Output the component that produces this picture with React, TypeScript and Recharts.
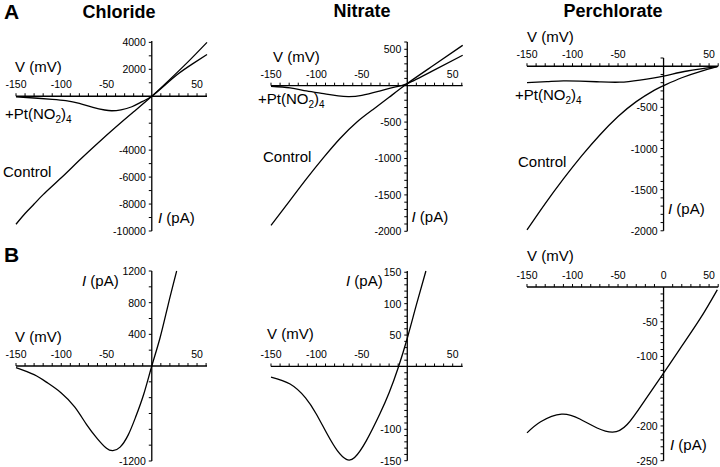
import { ComposedChart, Line, ReferenceLine, Scatter, XAxis, YAxis } from 'recharts';

const FONT = '"Liberation Sans", Arial, Helvetica, sans-serif';

interface IVPoint {
  v: number;
  i: number;
}

// A: whole-cell I-V curves (V in mV, I in pA), Control and +Pt(NO2)4
const chlorideControl: IVPoint[] = [
  { v: -150, i: -9500 }, { v: -140, i: -8700 }, { v: -130, i: -8000 }, { v: -120, i: -7300 },
  { v: -100, i: -6050 }, { v: -80, i: -4750 }, { v: -60, i: -3500 }, { v: -40, i: -2300 },
  { v: -20, i: -1150 }, { v: 0, i: 0 }, { v: 20, i: 1250 }, { v: 40, i: 2550 }, { v: 61, i: 4000 },
];
const chloridePt: IVPoint[] = [
  { v: -150, i: -40 }, { v: -130, i: -130 }, { v: -110, i: -230 }, { v: -95, i: -330 },
  { v: -80, i: -530 }, { v: -65, i: -820 }, { v: -52, i: -1020 }, { v: -44, i: -1075 },
  { v: -34, i: -1010 }, { v: -22, i: -780 }, { v: -10, i: -380 }, { v: 0, i: 0 },
  { v: 15, i: 850 }, { v: 30, i: 1700 }, { v: 45, i: 2400 }, { v: 61, i: 3100 },
];

const nitrateControl: IVPoint[] = [
  { v: -150, i: -1920 }, { v: -129, i: -1575 }, { v: -111, i: -1280 }, { v: -92, i: -985 },
  { v: -74, i: -725 }, { v: -56, i: -505 }, { v: -38, i: -330 }, { v: -20, i: -160 },
  { v: 0, i: 30 }, { v: 29, i: 280 }, { v: 61, i: 555 },
];
const nitratePt: IVPoint[] = [
  { v: -150, i: -8 }, { v: -129, i: -31 }, { v: -111, i: -72 }, { v: -92, i: -109 },
  { v: -76, i: -140 }, { v: -64, i: -150 }, { v: -50, i: -132 }, { v: -32, i: -78 },
  { v: -14, i: -20 }, { v: 0, i: 29 }, { v: 29, i: 211 }, { v: 61, i: 418 },
];

const perchlorateControl: IVPoint[] = [
  { v: -150, i: -1990 }, { v: -130, i: -1670 }, { v: -110, i: -1370 }, { v: -90, i: -1090 },
  { v: -70, i: -835 }, { v: -50, i: -612 }, { v: -30, i: -430 }, { v: -10, i: -290 },
  { v: 0, i: -235 }, { v: 20, i: -140 }, { v: 40, i: -65 }, { v: 59, i: -6 },
];
const perchloratePt: IVPoint[] = [
  { v: -150, i: -200 }, { v: -128, i: -188 }, { v: -110, i: -178 }, { v: -92, i: -181 },
  { v: -70, i: -190 }, { v: -48, i: -194 }, { v: -26, i: -168 }, { v: 0, i: -119 },
  { v: 26, i: -58 }, { v: 59, i: -6 },
];

// B: Pt(NO2)4-sensitive difference currents
const chlorideDiff: IVPoint[] = [
  { v: -150, i: -20 }, { v: -130, i: -110 }, { v: -115, i: -215 }, { v: -100, i: -340 },
  { v: -85, i: -520 }, { v: -72, i: -740 }, { v: -60, i: -920 }, { v: -50, i: -1040 },
  { v: -43, i: -1070 }, { v: -35, i: -1025 }, { v: -26, i: -870 }, { v: -18, i: -650 },
  { v: -9, i: -360 }, { v: 0, i: 0 }, { v: 9, i: 350 }, { v: 18, i: 770 }, { v: 27.5, i: 1200 },
];
const nitrateDiff: IVPoint[] = [
  { v: -150, i: -17 }, { v: -129, i: -28 }, { v: -112, i: -50 }, { v: -100, i: -76 },
  { v: -88, i: -108 }, { v: -77, i: -134 }, { v: -67, i: -148 }, { v: -58, i: -145 },
  { v: -45, i: -118 }, { v: -30, i: -75 }, { v: -20, i: -42 }, { v: -10, i: -2 },
  { v: 0, i: 45 }, { v: 10, i: 98 }, { v: 20.5, i: 152 },
];
const perchlorateDiff: IVPoint[] = [
  { v: -150, i: -210 }, { v: -135, i: -194 }, { v: -112, i: -183 }, { v: -92, i: -190 },
  { v: -73, i: -203 }, { v: -56, i: -209 }, { v: -40, i: -198 }, { v: -20, i: -162 },
  { v: 0, i: -124 }, { v: 18, i: -89 }, { v: 40, i: -46 }, { v: 59, i: -4 },
];

// tick labels
const vLabels = [-150, -100, -50, 50];
const vLabelsWithZero = [-150, -100, -50, 0, 50];
const chlorideALabels = [4000, 2000, -4000, -6000, -8000, -10000];
const nitrateALabels = [500, -500, -1000, -1500, -2000];
const perchlorateALabels = [-500, -1000, -1500, -2000];
const chlorideBLabels = [1200, 800, 400, -1200];
const nitrateBLabels = [150, 100, 50, -100, -150];
const perchlorateBLabels = [-50, -100, -200, -250];

const M = 30;

const range = (from: number, to: number, step: number) => {
  const out: number[] = [];
  for (let x = from; x <= to + 1e-9; x += step) out.push(x);
  return out;
};

const XTick = (p: any) => (
  <g>
    {p.payload.v !== 0 && <line x1={p.cx} x2={p.cx} y1={p.cy} y2={p.cy - 3} stroke="#000" strokeWidth={1} />}
    {p.payload.label ? (
      <text x={p.cx} y={p.cy - 8} textAnchor="middle" fontSize={10.5} fontFamily={FONT} fill="#000">
        {p.payload.label}
      </text>
    ) : null}
  </g>
);

const YTick = (p: any) => (
  <g>
    <line x1={p.cx - 3} x2={p.cx} y1={p.cy} y2={p.cy} stroke="#000" strokeWidth={1} />
    {p.payload.label ? (
      <text x={p.cx - 6} y={p.cy + 4} textAnchor="end" fontSize={10.5} fontFamily={FONT} fill="#000">
        {p.payload.label}
      </text>
    ) : null}
  </g>
);

interface PanelProps {
  left: number;
  top: number;
  width: number;
  height: number;
  xMax: number;
  yDomain: [number, number];
  yStep: number;
  xLabels: number[];
  yLabels: number[];
  series: IVPoint[][];
}

const Panel = ({ left, top, width, height, xMax, yDomain, yStep, xLabels, yLabels, series }: PanelProps) => {
  const xTicks = range(-150, xMax, 10)
    .filter((v) => v !== 0 || xLabels.includes(0))
    .map((v) => ({ v, i: 0, label: xLabels.includes(v) ? String(v) : '' }));
  const yTicks = range(yDomain[0], yDomain[1], yStep)
    .filter((i) => i !== 0)
    .map((i) => ({ v: 0, i, label: yLabels.includes(i) ? String(i) : '' }));
  return (
    <div style={{ position: 'absolute', left: left - M, top: top - M }}>
      <ComposedChart width={width + 2 * M} height={height + 2 * M} margin={{ top: M, right: M, bottom: M, left: M }}>
        <XAxis type="number" dataKey="v" domain={[-150, xMax]} scale="linear" hide />
        <YAxis type="number" dataKey="i" domain={yDomain} scale="linear" hide />
        <ReferenceLine y={0} stroke="#000" strokeWidth={1.3} />
        <ReferenceLine x={0} stroke="#000" strokeWidth={1.3} />
        <Scatter data={xTicks} dataKey="i" shape={XTick} isAnimationActive={false} />
        <Scatter data={yTicks} dataKey="i" shape={YTick} isAnimationActive={false} />
        {series.map((s, k) => (
          <Line
            key={k}
            data={s}
            dataKey="i"
            type="natural"
            stroke="#000"
            strokeWidth={1.3}
            dot={false}
            isAnimationActive={false}
          />
        ))}
      </ComposedChart>
    </div>
  );
};

const Label = ({ x, y, children, size = 15, weight = 400, anchor = 'start' }: any) => (
  <text x={x} y={y} fontSize={size} fontWeight={weight} textAnchor={anchor} fontFamily={FONT} fill="#000">
    {children}
  </text>
);

const Pt = ({ x, y }: { x: number; y: number }) => (
  <text x={x} y={y} fontSize={15} fontFamily={FONT} fill="#000">
    +Pt(NO<tspan fontSize={10} dy={4}>2</tspan>
    <tspan dy={-4}>)</tspan>
    <tspan fontSize={10} dy={4}>4</tspan>
  </text>
);

const IpA = ({ x, y }: { x: number; y: number }) => (
  <text x={x} y={y} fontSize={15} fontFamily={FONT} fill="#000">
    <tspan fontStyle="italic">I</tspan> (pA)
  </text>
);

export default function App() {
  return (
    <div style={{ position: 'absolute', left: 0, top: 0, width: 720, height: 467, background: '#fff' }}>
      <Panel left={16} top={40.5} width={191} height={190} xMax={61} yDomain={[-10000, 4100]} yStep={1000}
        xLabels={vLabels} yLabels={chlorideALabels} series={[chlorideControl, chloridePt]} />
      <Panel left={271} top={41.7} width={191.7} height={189.3} xMax={61} yDomain={[-2000, 600]} yStep={100}
        xLabels={vLabels} yLabels={nitrateALabels} series={[nitrateControl, nitratePt]} />
      <Panel left={526.7} top={58} width={191.2} height={172.8} xMax={60} yDomain={[-2000, 100]} yStep={100}
        xLabels={vLabels} yLabels={perchlorateALabels} series={[perchlorateControl, perchloratePt]} />
      <Panel left={16} top={271} width={191} height={190} xMax={61} yDomain={[-1200, 1200]} yStep={200}
        xLabels={vLabels} yLabels={chlorideBLabels} series={[chlorideDiff]} />
      <Panel left={271} top={271} width={191.7} height={189.7} xMax={61} yDomain={[-150, 150]} yStep={10}
        xLabels={vLabels} yLabels={nitrateBLabels} series={[nitrateDiff]} />
      <Panel left={526.7} top={287} width={191.2} height={173.7} xMax={60} yDomain={[-250, 0]} yStep={10}
        xLabels={vLabelsWithZero} yLabels={perchlorateBLabels} series={[perchlorateDiff]} />

      <svg width={720} height={467} style={{ position: 'absolute', left: 0, top: 0, pointerEvents: 'none' }}>
        <Label x={4} y={19} size={21} weight={700}>A</Label>
        <Label x={4} y={262} size={21} weight={700}>B</Label>
        <Label x={119} y={17.5} size={18} weight={700} anchor="middle">Chloride</Label>
        <Label x={362} y={17} size={18} weight={700} anchor="middle">Nitrate</Label>
        <Label x={613} y={17} size={18} weight={700} anchor="middle">Perchlorate</Label>

        <Label x={15} y={71.5}>V (mV)</Label>
        <Label x={273} y={61.5}>V (mV)</Label>
        <Label x={527} y={41.5}>V (mV)</Label>
        <Label x={15} y={341.5}>V (mV)</Label>
        <Label x={267} y={338.5}>V (mV)</Label>
        <Label x={527} y={260.5}>V (mV)</Label>

        <IpA x={158} y={222.5} />
        <IpA x={411.5} y={221.5} />
        <IpA x={668} y={214} />
        <IpA x={82} y={286} />
        <IpA x={346} y={286} />
        <IpA x={670} y={450} />

        <Pt x={5} y={119} />
        <Pt x={258} y={103.5} />
        <Pt x={515} y={100} />

        <Label x={3} y={176.5}>Control</Label>
        <Label x={263} y={161.5}>Control</Label>
        <Label x={518} y={166.5}>Control</Label>
      </svg>
    </div>
  );
}
